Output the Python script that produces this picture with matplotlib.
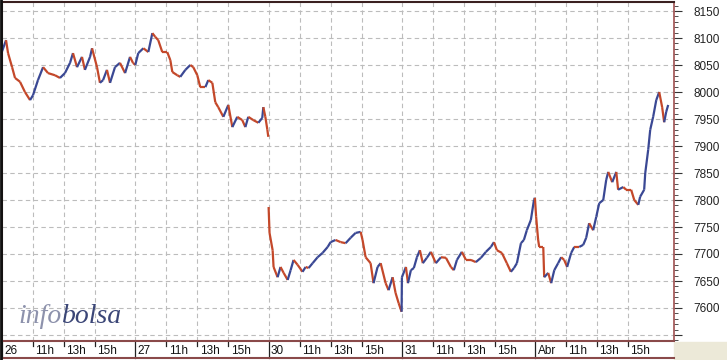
import numpy as np
import matplotlib
matplotlib.use("Agg")
import matplotlib.pyplot as plt
from matplotlib.collections import LineCollection
from matplotlib.transforms import blended_transform_factory

# horas (decimal) y valores, por sesion
horas_26 = [9.00, 9.26, 9.39, 9.65, 9.84, 10.16, 10.48, 10.81, 11.00, 11.32, 11.65, 11.97,
            12.42, 12.74, 13.06, 13.39, 13.58, 13.84, 14.16, 14.35, 14.68, 14.81, 15.13,
            15.32, 15.52, 15.77, 15.97, 16.29, 16.61, 16.94, 17.26, 17.45]
valor_26 = [8075, 8096, 8072, 8046, 8026, 8019, 8000, 7985, 7994, 8022, 8046, 8035,
            8031, 8026, 8035, 8054, 8072, 8046, 8065, 8041, 8065, 8081, 8046,
            8017, 8022, 8041, 8017, 8046, 8054, 8035, 8065, 8054]

horas_27 = [9.00, 9.19, 9.52, 9.84, 10.10, 10.29, 10.48, 10.74, 11.06, 11.26, 11.39, 11.71,
            11.90, 12.23, 12.55, 12.74, 13.00, 13.19, 13.52, 13.71, 13.97, 14.16, 14.35,
            14.68, 15.00, 15.26, 15.58, 15.90, 16.10, 16.29, 16.61, 16.94, 17.19, 17.26,
            17.39, 17.52, 17.58]
valor_27 = [8050, 8072, 8081, 8074, 8109, 8102, 8096, 8074, 8074, 8059, 8037, 8031,
            8028, 8041, 8050, 8046, 8031, 8009, 8009, 8022, 8017, 7981, 7972,
            7954, 7976, 7935, 7954, 7948, 7935, 7954, 7948, 7943, 7952, 7972,
            7954, 7930, 7917]

horas_30 = [9.00, 9.06, 9.26, 9.32, 9.58, 9.77, 9.97, 10.23, 10.42, 10.61, 10.87, 11.19,
            11.39, 11.58, 11.84, 12.16, 12.48, 12.81, 13.00, 13.32, 13.65, 13.97, 14.29,
            14.61, 14.94, 15.06, 15.26, 15.58, 15.77, 16.03, 16.23, 16.55, 16.74, 17.00,
            17.19, 17.39, 17.58]
valor_30 = [7787, 7739, 7707, 7676, 7657, 7676, 7665, 7652, 7670, 7689, 7680, 7667,
            7676, 7674, 7683, 7694, 7702, 7713, 7722, 7726, 7722, 7720, 7730,
            7739, 7741, 7726, 7694, 7683, 7646, 7676, 7683, 7646, 7633, 7657,
            7628, 7609, 7593]

horas_31 = [9.00, 9.26, 9.39, 9.58, 9.77, 9.97, 10.16, 10.35, 10.61, 10.87, 11.19, 11.52,
            11.84, 12.16, 12.35, 12.55, 12.87, 13.13, 13.45, 13.77, 14.10, 14.42, 14.74,
            14.94, 15.13, 15.45, 15.77, 16.03, 16.23, 16.42, 16.68, 16.87, 17.06, 17.32,
            17.52, 17.58]
valor_31 = [7657, 7676, 7646, 7670, 7674, 7694, 7707, 7683, 7693, 7704, 7683, 7694,
            7693, 7676, 7670, 7689, 7704, 7689, 7689, 7685, 7693, 7704, 7713,
            7722, 7707, 7702, 7683, 7667, 7674, 7683, 7720, 7726, 7744, 7763,
            7800, 7804]

horas_abr = [9.06, 9.19, 9.26, 9.52, 9.58, 9.84, 10.03, 10.23, 10.48, 10.68, 10.87, 11.06,
             11.32, 11.52, 11.84, 12.10, 12.29, 12.48, 12.74, 12.94, 13.13, 13.39, 13.58,
             13.71, 13.97, 14.23, 14.35, 14.68, 14.87, 15.19, 15.39, 15.65, 15.77, 16.03,
             16.10, 16.29, 16.42, 16.61, 16.81, 17.00, 17.19, 17.32, 17.45, 17.58]
valor_abr = [7769, 7726, 7713, 7713, 7657, 7665, 7646, 7670, 7683, 7694, 7689, 7676,
             7702, 7713, 7713, 7717, 7730, 7757, 7744, 7769, 7794, 7800, 7837,
             7852, 7833, 7852, 7819, 7824, 7819, 7819, 7800, 7791, 7806, 7819,
             7850, 7893, 7930, 7954, 7985, 8000, 7972, 7944, 7963, 7976]

dias = ['26', '27', '30', '31', 'Abr']
horas_tick = [11, 13, 15]
y_ticks = list(range(7550, 8151, 50))

DIA = 8.6  # horas por sesion en el eje
ROJO = '#c4482a'
AZUL = '#3a4894'


def pos(d, h):
    return d * DIA + (np.array(h) - 9.0)


# tramos continuos (hueco entre el 27 y el 30)
tramos = [
    (np.concatenate([pos(0, horas_26), pos(1, horas_27)]), valor_26 + valor_27),
    (np.concatenate([pos(2, horas_30), pos(3, horas_31), pos(4, horas_abr)]),
     valor_30 + valor_31 + valor_abr),
]

W, H = 727, 360
fig = plt.figure(figsize=(W / 100, H / 100), dpi=100)
fig.patch.set_facecolor('white')
ax = fig.add_axes([2 / W, 19 / H, 672 / W, 339 / H])
ax.set_xlim(0, 672 / 15.5)
ax.set_ylim(8000 - 249 * 50 / 27, 8000 + 90 * 50 / 27)

# rejilla
vx = []
for d in range(len(dias)):
    vx.append(d * DIA)
    vx += [d * DIA + (h - 9) for h in horas_tick]
for x in vx[1:]:
    ax.axvline(x, color='#bcbcbc', lw=0.8, ls=(0, (4, 3)), zorder=1)
for y in y_ticks:
    ax.axhline(y, color='#bcbcbc', lw=0.8, ls=(0, (4, 3)), zorder=1)

# serie
for xs, ys in tramos:
    ys = np.array(ys, dtype=float)
    pts = np.column_stack([xs, ys]).reshape(-1, 1, 2)
    segs = np.concatenate([pts[:-1], pts[1:]], axis=1)
    cols = [AZUL if ys[i + 1] > ys[i] else ROJO for i in range(len(ys) - 1)]
    ax.add_collection(LineCollection(segs, colors=cols, linewidths=1.6, zorder=3))

# eje derecho
ax.yaxis.tick_right()
ax.set_yticks(y_ticks)
ax.set_yticklabels(['' if v == 7550 else str(v) for v in y_ticks],
                   fontsize=8.5, family='Liberation Sans', color='#222222')
ax.set_yticks(range(7540, 8170, 10), minor=True)
ax.tick_params(axis='y', which='major', length=6, width=0.8, color='#333333', pad=8)
ax.tick_params(axis='y', which='minor', length=3, width=0.6, color='#333333')
ax.set_xticks([])

for s in ['left', 'top']:
    ax.spines[s].set_color('#3a2020')
    ax.spines[s].set_linewidth(1.5)
ax.spines['right'].set_color('#a05050')
ax.spines['right'].set_linewidth(1.2)
ax.spines['bottom'].set_color('#8a4a4a')
ax.spines['bottom'].set_linewidth(1.5)

# franja inferior con dias y horas
fig.add_artist(plt.Rectangle((674 / W, 0), 53 / W, 18 / H, transform=fig.transFigure,
                             color='#ece9d8', zorder=0))
fig.add_artist(plt.Line2D([2 / W, 674 / W], [2 / H, 2 / H], transform=fig.transFigure,
                          color='#8a4a4a', lw=1.5))
fig.add_artist(plt.Line2D([1 / W, 1 / W], [0, 1], transform=fig.transFigure,
                          color='#111111', lw=2))
tr = blended_transform_factory(ax.transData, fig.transFigure)
for d, nombre in enumerate(dias):
    x0 = d * DIA
    ax.add_line(plt.Line2D([x0, x0], [2 / H, 18 / H], transform=tr, color='#222222',
                           lw=0.9, clip_on=False))
    ax.text(x0 + 0.15, 9.5 / H, nombre, transform=tr, fontsize=8.5,
            family='Liberation Sans', va='center', ha='left', color='#111111')
    for h in horas_tick:
        xh = x0 + (h - 9)
        ax.add_line(plt.Line2D([xh, xh], [14 / H, 18 / H], transform=tr, color='#222222',
                               lw=0.9, clip_on=False))
        ax.text(xh + 0.15, 9.5 / H, f'{h}h', transform=tr, fontsize=8.5,
                family='Liberation Sans', va='center', ha='left', color='#111111')

# logo
fig.text(18 / W, 37 / H, 'info', fontsize=20, family='Liberation Serif', style='italic',
         color='#8d92ac', va='baseline')
fig.text(62 / W, 37 / H, 'bolsa', fontsize=20, family='Liberation Serif', style='italic',
         color='#3b4677', va='baseline')

fig.savefig('out.png', dpi=100)
